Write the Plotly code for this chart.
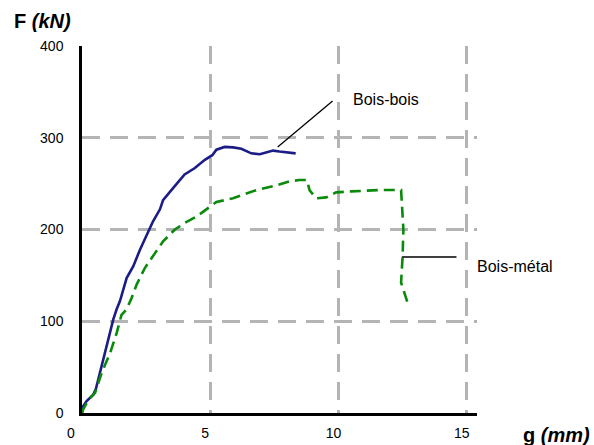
import plotly.graph_objects as go

# Bois-bois (solid navy)
bb_x = [0.0, 0.03, 0.18, 0.44, 0.54, 0.70, 0.89, 1.09, 1.22, 1.35, 1.48, 1.74, 2.0, 2.26, 2.58, 2.77, 3.04,
        3.16, 3.55, 4.0, 4.40, 4.79, 5.08, 5.24, 5.56, 5.89, 6.21, 6.60, 6.93, 7.25, 7.45, 7.70, 8.03, 8.33]
bb_y = [0, 7, 13, 20, 26, 44, 65, 87, 102, 113, 122, 147, 160, 178, 198, 209, 222,
        232, 245, 260, 267, 276, 281, 287, 290, 289.5, 288, 283, 282, 284, 286, 285, 284, 283]

# Bois-métal (dashed green)
bm_x = [0.0, 0.03, 0.25, 0.51, 0.77, 1.09, 1.35, 1.54, 1.74, 1.93, 2.13, 2.45, 2.84, 3.16, 3.62, 4.0, 4.46,
        4.85, 5.24, 5.89, 6.80, 7.57, 8.09, 8.48, 8.77, 8.87, 9.13, 9.52, 9.91, 10.49, 11.6, 12.44, 12.47,
        12.53, 12.5, 12.44, 12.69]
bm_y = [0, 3, 14.5, 22, 44, 65, 87, 107, 113, 125, 140, 158, 174, 187, 200, 207, 214,
        222, 230, 234, 243, 248, 252.5, 254, 254, 243, 234, 235, 240.5, 241.5, 243, 243, 225,
        200, 171, 142, 120.5]

x_ticks = [5, 10, 15]
y_ticks = [0, 100, 200, 300, 400]

FONT = "Liberation Sans, Arial, sans-serif"
GRID = "#b4b4b4"

# plot area in page coords: x 82..477, y 46..413
W, H = 594, 445
L, T, B = 82, 46, 32
R = W - L - 395


def dx(px):
    return (px - 82) / 395


def dy(py):
    return (413 - py) / 367


fig = go.Figure()
fig.add_trace(go.Scatter(x=bb_x, y=bb_y, mode="lines", name="Bois-bois",
                         line=dict(color="#1c1c86", width=2.6)))
fig.add_trace(go.Scatter(x=bm_x, y=bm_y, mode="lines", name="Bois-métal",
                         line=dict(color="#0a8a0a", width=2.6, dash="11px,6px")))

fig.update_layout(
    width=W, height=H,
    margin=dict(l=L, r=R, t=T, b=B, pad=0),
    paper_bgcolor="white", plot_bgcolor="white",
    showlegend=False,
    font=dict(family=FONT, size=14, color="black"),
    xaxis=dict(range=[0, 15.4], tickvals=x_ticks, ticktext=[str(v) for v in x_ticks],
               showgrid=True, gridcolor=GRID, gridwidth=2.5, griddash="18px,10px",
               showline=True, linecolor="black", linewidth=2.5, zeroline=False,
               ticks="", ticklabelstandoff=5, ticklabelshift=-5, automargin=False,
               tickfont=dict(size=14, family=FONT)),
    yaxis=dict(range=[0, 400], tickvals=y_ticks, ticktext=[str(v) for v in y_ticks],
               showgrid=True, gridcolor=GRID, gridwidth=2.5, griddash="18px,10px",
               showline=True, linecolor="black", linewidth=2.5, zeroline=False,
               ticks="", ticklabelstandoff=13, automargin=False,
               tickfont=dict(size=14, family=FONT)),
)

# leader lines
fig.add_shape(type="line", xref="x", yref="y", x0=7.63, y0=290, x1=9.77, y1=340,
              line=dict(color="black", width=1.3))
fig.add_shape(type="line", xref="x", yref="y", x0=12.47, y0=170, x1=14.6, y1=170,
              line=dict(color="black", width=1.5))

fig.add_annotation(x=10.5, y=342, xref="x", yref="y", text="Bois-bois", showarrow=False,
                   xanchor="left", yanchor="middle", font=dict(size=16, family=FONT))
fig.add_annotation(x=15.33, y=160, xref="x", yref="y", text="Bois-métal", showarrow=False,
                   xanchor="left", yanchor="middle", font=dict(size=16, family=FONT))

# axis titles and origin label
fig.add_annotation(xref="x domain", yref="y domain", x=dx(12), y=dy(21),
                   text="<b>F <i>(kN)</i></b>", showarrow=False, xanchor="left", yanchor="middle",
                   font=dict(size=20, family=FONT))
fig.add_annotation(xref="x domain", yref="y domain", x=dx(521), y=dy(435),
                   text="<b>g <i>(mm)</i></b>", showarrow=False, xanchor="left", yanchor="middle",
                   font=dict(size=20, family=FONT))
fig.add_annotation(xref="x domain", yref="y domain", x=dx(71), y=dy(432.5),
                   text="0", showarrow=False, xanchor="center", yanchor="middle",
                   font=dict(size=14, family=FONT))

# remove the default 8px body margin so the 594x445 figure fills the window exactly
fig.write_html("out.html",
               config={"displayModeBar": False},
               post_script="document.body.style.margin='0px';document.body.style.overflow='hidden';")
